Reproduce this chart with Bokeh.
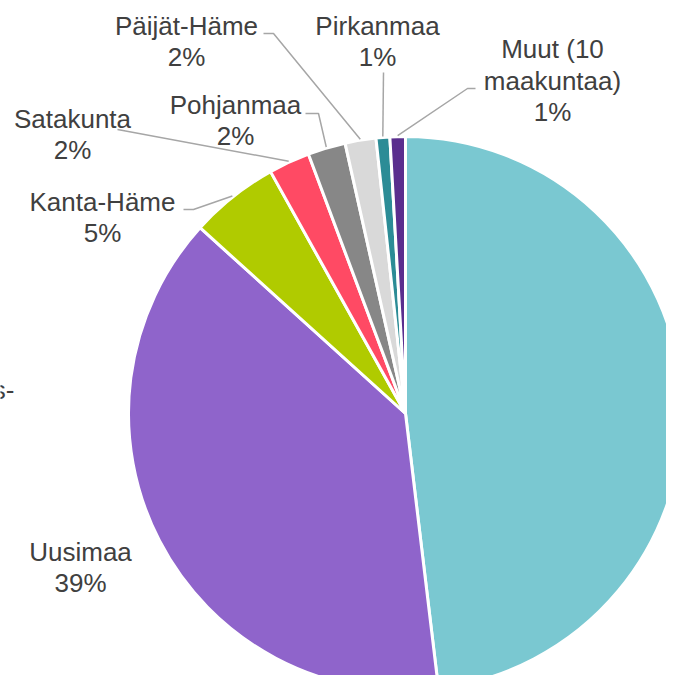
import math
from bokeh.plotting import figure
from bokeh.models import Range1d, ColumnDataSource
from bokeh.core.properties import value
from bokeh.embed import file_html
from bokeh.resources import INLINE

# ---- data ----
regions = ["Varsinais-\nSuomi", "Uusimaa", "Kanta-Häme", "Satakunta", "Pohjanmaa",
           "Päijät-Häme", "Pirkanmaa", "Muut (10\nmaakuntaa)"]
shares = [48.1, 38.6, 5.2, 2.4, 2.2, 1.8, 0.8, 0.9]
colors = ["#7AC8D1", "#8F64CB", "#B0CB00", "#FF4A64", "#878787",
          "#D9D9D9", "#2C8C96", "#5A2E8E"]

# ---- layout (pixel coordinates of the 682x691 picture, y measured from top) ----
W, H = 682, 691
PW, PH = W - 16, H - 16
CX, CY, R = 405, 413, 277
label_pos = [(-43, 421), (80, 567), (102, 217), (72, 134), (235, 120),
             (186, 41), (377, 41), (552, 80)]
# leader line start/elbow points (None = no leader)
leader_pts = [None, None,
              [(183, 209), (193, 209)],
              [(117, 129)],
              [(305, 113), (318, 113)],
              [(263, 33), (273, 33)],
              [(383, 72)],
              [(475, 88), (467, 88)]]

def Y(ypix):
    return H - ypix

total = sum(shares)
starts, ends, mids = [], [], []
cum = 0.0
for s in shares:
    a0 = math.pi / 2 - 2 * math.pi * cum / total
    cum += s
    a1 = math.pi / 2 - 2 * math.pi * cum / total
    starts.append(a0)
    ends.append(a1)
    mids.append((a0 + a1) / 2)

src = ColumnDataSource(dict(start=starts, end=ends, color=colors))

p = figure(width=PW, height=PH, output_backend="svg", toolbar_location=None,
           x_range=Range1d(0, PW), y_range=Range1d(H - PH, H),
           min_border=0)
p.axis.visible = False
p.grid.visible = False
p.outline_line_color = None
p.background_fill_color = "white"
p.border_fill_color = "white"

p.wedge(x=CX, y=Y(CY), radius=R, start_angle="start", end_angle="end",
        direction="clock", fill_color="color", line_color="white", line_width=3,
        source=src)

xs, ys = [], []
for pts, m in zip(leader_pts, mids):
    if pts is None:
        continue
    ex = CX + (R + 1) * math.cos(m)
    ey = Y(CY) + (R + 1) * math.sin(m)
    xs.append([q[0] for q in pts] + [ex])
    ys.append([Y(q[1]) for q in pts] + [ey])
p.multi_line(xs=xs, ys=ys, line_color="#A6A6A6", line_width=1.5)

texts = [f"{r}\n{int(s + 0.5)}%" for r, s in zip(regions, shares)]
p.text(x=[q[0] for q in label_pos], y=[Y(q[1]) for q in label_pos], text=texts,
       text_font=value("Liberation Sans"), text_font_size="26px",
       text_color="#404040", text_align="center", text_baseline="middle",
       text_line_height=1.05)

open("out.html", "w").write(file_html(p, INLINE))
